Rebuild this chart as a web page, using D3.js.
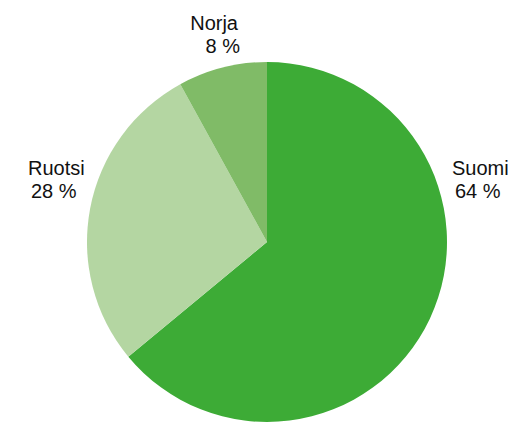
<!DOCTYPE html>
<html>
<head>
<meta charset="utf-8">
<script src="https://cdn.jsdelivr.net/npm/d3@7"></script>
<style>
  body { margin: 0; background: #fff; }
  text { font-family: "Liberation Sans", Arial, Helvetica, sans-serif; font-size: 20px; fill: #111; }
</style>
</head>
<body>
<div class="graph"></div>
<script>
// data
var countries = ["Suomi", "Ruotsi", "Norja"];
var shares = [64, 28, 8];
var colors = ["#3dab36", "#b4d6a2", "#80bb67"];

var width = 513, height = 422;
var cx = 267, cy = 242, radius = 180;

var svg = d3.select(".graph")
  .append("svg")
  .attr("width", width)
  .attr("height", height);

var g = svg.append("g")
  .attr("transform", "translate(" + cx + "," + cy + ")");

var pie = d3.pie().sort(null).value(function(d) { return d; });
var arc = d3.arc().innerRadius(0).outerRadius(radius);

var arcs = pie(shares);

g.selectAll("path.slice")
  .data(arcs)
  .enter()
  .append("path")
  .attr("class", "slice")
  .attr("d", arc)
  .attr("fill", function(d, i) { return colors[i]; });

// label placement: relative to the pie edge, per slice
var labelLayout = [
  {x: radius + 5, y: -67, anchor: "start", dx2: 3},     // Suomi
  {x: -radius - 59, y: -67, anchor: "start", dx2: 3},   // Ruotsi
  {x: -29, y: -212, anchor: "end", dx2: 2}              // Norja
];

var labels = g.selectAll("g.label")
  .data(arcs)
  .enter()
  .append("g")
  .attr("class", "label");

labels.append("text")
  .attr("x", function(d, i) { return labelLayout[i].x; })
  .attr("y", function(d, i) { return labelLayout[i].y; })
  .attr("text-anchor", function(d, i) { return labelLayout[i].anchor; })
  .text(function(d, i) { return countries[i]; });

labels.append("text")
  .attr("x", function(d, i) { return labelLayout[i].x + labelLayout[i].dx2; })
  .attr("y", function(d, i) { return labelLayout[i].y + 23; })
  .attr("text-anchor", function(d, i) { return labelLayout[i].anchor; })
  .text(function(d, i) { return shares[i] + " %"; });
</script>
</body>
</html>
